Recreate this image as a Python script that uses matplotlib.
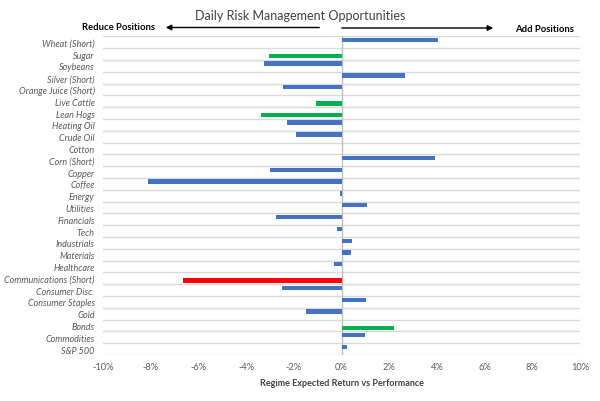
import matplotlib
matplotlib.use('Agg')
import matplotlib.pyplot as plt
from matplotlib.ticker import FuncFormatter

plt.rcParams['font.family'] = ['Lato', 'DejaVu Sans']

# Données (valeurs en %)
categories = ['Wheat (Short)', 'Sugar', 'Soybeans', 'Silver (Short)', 'Orange Juice (Short)',
              'Live Cattle', 'Lean Hogs', 'Heating Oil', 'Crude Oil', 'Cotton', 'Corn (Short)',
              'Copper', 'Coffee', 'Energy', 'Utilities', 'Financials', 'Tech', 'Industrials',
              'Materials', 'Healthcare', 'Communications (Short)', 'Consumer Disc.',
              'Consumer Staples', 'Gold', 'Bonds', 'Commodities', 'S&P 500']
values = [4.05, -3.04, -3.25, 2.66, -2.47, -1.09, -3.38, -2.27, -1.91, 0.03, 3.92,
          -2.98, -8.13, -0.08, 1.05, -2.76, -0.17, 0.46, 0.38, -0.31, -6.64, -2.48,
          1.03, -1.51, 2.19, 0.99, 0.21]
signal = ['blue', 'green', 'blue', 'blue', 'blue', 'green', 'green', 'blue', 'blue', 'green',
          'blue', 'blue', 'blue', 'blue', 'blue', 'blue', 'blue', 'blue', 'blue', 'blue',
          'red', 'blue', 'blue', 'blue', 'green', 'blue', 'blue']

palette = {'blue': '#4472C4', 'green': '#00B050', 'red': '#FF0000'}
text_grey = '#595959'

fig = plt.figure(figsize=(6.0, 4.02), dpi=100)
ax = fig.add_axes([0.1717, 0.1144, 0.795, 0.7928])

# série bleue en haut de la case, série mise en évidence en bas
for i, (v, s) in enumerate(zip(values, signal)):
    offset = -0.19 if s == 'blue' else 0.19
    ax.barh(i + offset, v, height=0.36, color=palette[s], zorder=3)

ax.set_ylim(len(categories) - 0.5, -0.5)
ax.set_xlim(-10, 10)
ax.set_yticks(range(len(categories)))
ax.set_yticklabels(categories, fontstyle='italic', fontsize=6.5, color=text_grey)
ax.set_xticks(range(-10, 11, 2))
ax.xaxis.set_major_formatter(FuncFormatter(lambda x, p: f'{x:.0f}%'))
ax.tick_params(axis='x', length=0, labelsize=6.7, labelcolor=text_grey, pad=5)
ax.tick_params(axis='y', length=0, pad=6)

for y in [k - 0.5 for k in range(len(categories) + 1)]:
    ax.axhline(y, color='#D9D9D9', linewidth=1.0, zorder=1)
ax.axvline(0, color='#BFBFBF', linewidth=1.0, zorder=2)
for sp in ax.spines.values():
    sp.set_visible(False)

ax.set_xlabel('Regime Expected Return vs Performance', fontsize=6.5, fontweight='bold',
              color='#404040', labelpad=5)

fig.text(0.5, 1 - 16 / 402, 'Daily Risk Management Opportunities', ha='center', va='center',
         fontsize=9, color='#404040')
fig.text(82 / 600, 1 - 28 / 402, 'Reduce Positions', ha='left', va='center',
         fontsize=6.8, fontweight='bold', color='black')
fig.text(574 / 600, 1 - 29.5 / 402, 'Add Positions', ha='right', va='center',
         fontsize=6.8, fontweight='bold', color='black')
# flèches
ax.annotate('', xy=(163 / 600, 1 - 28.5 / 402), xytext=(322 / 600, 1 - 28.5 / 402),
            xycoords='figure fraction', textcoords='figure fraction',
            arrowprops=dict(arrowstyle='-|>', color='black', lw=1.0, mutation_scale=8))
ax.annotate('', xy=(496 / 600, 1 - 29 / 402), xytext=(339 / 600, 1 - 29 / 402),
            xycoords='figure fraction', textcoords='figure fraction',
            arrowprops=dict(arrowstyle='-|>', color='black', lw=1.0, mutation_scale=8))

plt.savefig('out.png', dpi=100, facecolor='white')
